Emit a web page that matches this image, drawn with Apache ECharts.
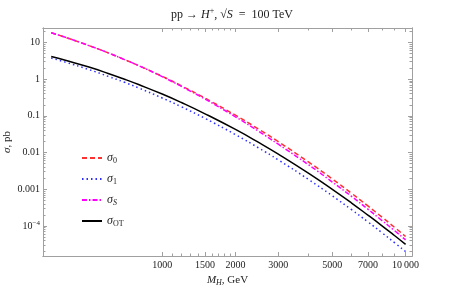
<!DOCTYPE html>
<html>
<head>
<meta charset="utf-8">
<script src="https://cdn.jsdelivr.net/npm/echarts@6/dist/echarts.min.js"></script>
<style>
  html, body { margin: 0; padding: 0; background: #fff; }
  #chart { width: 466px; height: 289px; }
</style>
</head>
<body>
<div id="chart"></div>
<script>
// charged Higgs masses, GeV
var massGeV = [350, 400, 500, 600, 700, 800, 1000, 1200, 1500, 2000, 2500, 3000, 4000, 5000, 6000, 7000, 8000, 9000, 10000];

// cross sections, pb
var sigma0 = [18.4, 13.8, 8.2, 5.2, 3.41, 2.34, 1.19, 0.656, 0.303, 0.1038, 0.0425, 0.0197, 0.00547, 0.0019, 7.73e-4, 3.50e-4, 1.73e-4, 9.2e-5, 5.16e-5];
var sigma1 = [3.75, 2.90, 1.82, 1.19, 0.818, 0.575, 0.306, 0.176, 0.0849, 0.0308, 0.0131, 0.00628, 0.00183, 6.6e-4, 2.77e-4, 1.29e-4, 6.52e-5, 3.5e-5, 2.0e-5];
var sigmaS = [18.4, 13.8, 8.2, 5.2, 3.4, 2.33, 1.17, 0.632, 0.285, 0.0938, 0.0372, 0.0168, 0.00459, 0.00157, 6.36e-4, 2.86e-4, 1.40e-4, 7.47e-5, 4.16e-5];
var sigmaOT = [4.14, 3.26, 2.13, 1.43, 0.994, 0.711, 0.392, 0.230, 0.1135, 0.0425, 0.01854, 0.00904, 0.0027, 9.89e-4, 4.2e-4, 1.97e-4, 1.007e-4, 5.47e-5, 3.13e-5];

// axis ticks
var xMajorTicks = [1000, 1500, 2000, 3000, 5000, 7000, 10000];
var xTickLabels = ['1000', '1500', '2000', '3000', '5000', '7000', '10\u2009000'];
var xMinorTicks = [1100, 1200, 1300, 1400, 1600, 1700, 1800, 1900, 4000, 6000, 8000, 9000];
var yMajorTicks = [10, 1, 0.1, 0.01, 0.001, 0.0001];
var yTickLabels = ['10', '1', '0.1', '0.01', '0.001', '10{sup|\u22124}'];
var yMinorTicks = [];
for (var e = -5; e <= 1; e++) {
    for (var k = 2; k <= 9; k++) yMinorTicks.push(k * Math.pow(10, e));
}

var lg = Math.log10;
var xMin = 2.5103, xMax = 4.0263;   // log10 of axis range
var yMin = -4.82, yMax = 1.393;

var serif = 'Liberation Serif';
var frameColor = '#a0a0a0';

function pairs(vals) {
    return massGeV.map(function (m, i) { return [lg(m), lg(vals[i])]; });
}

function xAxisFor(pos, ticks, len, labels) {
    return {
        type: 'value', position: pos, min: xMin, max: xMax,
        axisLine: { show: true, onZero: false, lineStyle: { color: frameColor, width: 1 } },
        axisTick: { show: true, inside: true, length: len, customValues: ticks.map(lg),
            lineStyle: { color: frameColor, width: 1 } },
        axisLabel: labels ? {
            show: true, margin: 4, fontFamily: serif, fontSize: 10, color: '#222',
            customValues: xMajorTicks.map(lg),
            formatter: function (v) {
                var i = xMajorTicks.findIndex(function (t) { return Math.abs(lg(t) - v) < 1e-6; });
                return i >= 0 ? xTickLabels[i] : '';
            }
        } : { show: false },
        splitLine: { show: false }
    };
}

function yAxisFor(pos, ticks, len, labels) {
    return {
        type: 'value', position: pos, min: yMin, max: yMax,
        axisLine: { show: true, onZero: false, lineStyle: { color: frameColor, width: 1 } },
        axisTick: { show: true, inside: true, length: len, customValues: ticks.map(lg),
            lineStyle: { color: frameColor, width: 1 } },
        axisLabel: labels ? {
            show: true, margin: 3, fontFamily: serif, fontSize: 10, color: '#222',
            customValues: yMajorTicks.map(lg),
            formatter: function (v) {
                var i = yMajorTicks.findIndex(function (t) { return Math.abs(lg(t) - v) < 1e-6; });
                return i >= 0 ? yTickLabels[i] : '';
            },
            rich: { sup: { fontFamily: serif, fontSize: 7, padding: [0, 0, 6, 0], color: '#222' } }
        } : { show: false },
        splitLine: { show: false }
    };
}

var legendNames = {
    s0: '{g|\u03c3}{sub|0}',
    s1: '{g|\u03c3}{sub|1}',
    sS: '{g|\u03c3}{subi|S}',
    sOT: '{g|\u03c3}{sub|OT}'
};

var chart = echarts.init(document.getElementById('chart'));
chart.setOption({
    animation: false,
    backgroundColor: '#fff',
    title: {
        text: 'pp \u2192 {i|H}{sup|+}, \u221a{i|S}  =  100 TeV',
        left: 227, top: 2, textAlign: 'center',
        textStyle: {
            fontFamily: serif, fontSize: 12, fontWeight: 'normal', color: '#222',
            rich: {
                i: { fontFamily: serif, fontSize: 12, fontStyle: 'italic', color: '#222' },
                sup: { fontFamily: serif, fontSize: 8, padding: [0, 0, 7, 0], color: '#222' }
            }
        }
    },
    grid: { left: 43, right: 54, top: 28, bottom: 33, containLabel: false, outerBoundsMode: 'none' },
    legend: {
        orient: 'vertical', left: 76, top: 147, itemWidth: 20, itemHeight: 10, itemGap: 8,
        data: ['s0', 's1', 'sS', 'sOT'],
        itemStyle: { opacity: 0 },
        formatter: function (n) { return legendNames[n]; },
        textStyle: {
            fontFamily: serif, fontSize: 12, color: '#222',
            rich: {
                g: { fontFamily: serif, fontSize: 12, fontStyle: 'italic', color: '#222' },
                sub: { fontFamily: serif, fontSize: 8, padding: [6, 0, 0, 0], color: '#222' },
                subi: { fontFamily: serif, fontSize: 8, fontStyle: 'italic', padding: [6, 0, 0, 0], color: '#222' }
            }
        }
    },
    xAxis: [
        Object.assign(xAxisFor('bottom', xMajorTicks, 4, true), {
            name: '{i|M}{isub|H}, GeV', nameLocation: 'middle', nameGap: 18, nameMoveOverlap: false,
            nameTextStyle: {
                fontFamily: serif, fontSize: 11, color: '#222',
                rich: {
                    i: { fontFamily: serif, fontSize: 11, fontStyle: 'italic', color: '#222' },
                    isub: { fontFamily: serif, fontSize: 8, fontStyle: 'italic', padding: [5, 0, 0, 0], color: '#222' }
                }
            }
        }),
        xAxisFor('bottom', xMinorTicks, 2.5, false),
        xAxisFor('top', xMajorTicks, 4, false),
        xAxisFor('top', xMinorTicks, 2.5, false)
    ],
    yAxis: [
        Object.assign(yAxisFor('left', yMajorTicks, 4, true), {
            name: '{i|\u03c3}, pb', nameLocation: 'middle', nameGap: 30, nameRotate: 90, nameMoveOverlap: false,
            nameTextStyle: {
                fontFamily: serif, fontSize: 11, color: '#222',
                rich: { i: { fontFamily: serif, fontSize: 11, fontStyle: 'italic', color: '#222' } }
            }
        }),
        yAxisFor('left', yMinorTicks, 2.5, false),
        yAxisFor('right', yMajorTicks, 4, false),
        yAxisFor('right', yMinorTicks, 2.5, false)
    ],
    series: [
        {
            name: 's0', type: 'line', smooth: true, symbol: 'none', data: pairs(sigma0),
            lineStyle: { color: '#ff3030', width: 1.5, type: [5, 3] }, itemStyle: { color: '#ff3030' }
        },
        {
            name: 's1', type: 'line', smooth: true, symbol: 'none', data: pairs(sigma1),
            lineStyle: { color: '#2f2fff', width: 1.5, type: [1.5, 3] }, itemStyle: { color: '#2f2fff' }
        },
        {
            name: 'sS', type: 'line', smooth: true, symbol: 'none', data: pairs(sigmaS),
            lineStyle: { color: '#ff00ff', width: 1.5, type: [5, 2, 1.5, 2] }, itemStyle: { color: '#ff00ff' }
        },
        {
            name: 'sOT', type: 'line', smooth: true, symbol: 'none', data: pairs(sigmaOT),
            lineStyle: { color: '#000', width: 1.5 }, itemStyle: { color: '#000' }
        }
    ]
});
</script>
</body>
</html>
